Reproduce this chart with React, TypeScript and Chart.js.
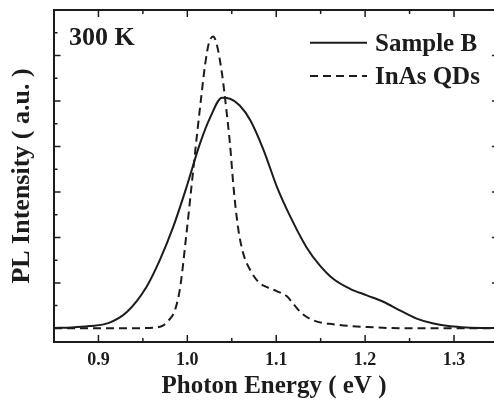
import React, { useEffect, useRef } from 'react';
import { Chart, registerables } from 'chart.js';
Chart.register(...registerables);

// ---- data ----
const sampleBEnergy = [0.85, 0.87, 0.89, 0.911, 0.932, 0.954, 0.969, 0.984, 0.999, 1.014, 1.026, 1.039, 1.048, 1.059, 1.071, 1.086, 1.101, 1.116, 1.134, 1.149, 1.164, 1.183, 1.202, 1.221, 1.239, 1.258, 1.277, 1.296, 1.314, 1.35];
const sampleBIntensity = [0.02, 0.04, 0.1, 0.23, 0.72, 1.82, 3.0, 4.45, 6.2, 8.1, 9.3, 10.14, 10.1, 9.8, 9.14, 7.82, 6.2, 4.9, 3.57, 2.77, 2.18, 1.74, 1.45, 1.16, 0.79, 0.43, 0.21, 0.09, 0.04, 0.01];

const qdEnergy = [0.85, 0.9, 0.95, 0.965, 0.973, 0.979, 0.986, 0.992, 0.999, 1.005, 1.011, 1.016, 1.02, 1.024, 1.029, 1.033, 1.039, 1.044, 1.048, 1.052, 1.057, 1.063, 1.071, 1.08, 1.089, 1.101, 1.112, 1.119, 1.129, 1.142, 1.164, 1.202, 1.239, 1.35];
const qdIntensity = [0, 0, 0.01, 0.04, 0.13, 0.35, 0.79, 1.82, 4.16, 6.36, 8.56, 10.3, 11.6, 12.5, 12.83, 12.5, 11.2, 9.58, 8.1, 6.2, 4.45, 3.28, 2.55, 2.04, 1.82, 1.63, 1.41, 1.09, 0.65, 0.35, 0.18, 0.06, 0.01, 0];

const seriesLabels = ['Sample B', 'InAs QDs'];
const xMin = 0.85;
const xVisibleMax = 1.345; // the right frame (1.35) lies just beyond the picture edge
const xFrameMax = 1.35;
const xMajorTicks = [0.9, 1.0, 1.1, 1.2, 1.3];
const xTickLabels = ['0.9', '1.0', '1.1', '1.2', '1.3'];
const xMinorTicks = [0.85, 0.95, 1.05, 1.15, 1.25, 1.35];
const yMajorTicks = [0, 2, 4, 6, 8, 10, 12];
const yMinorTicks = [1, 3, 5, 7, 9, 11, 13];
const xTitle = 'Photon Energy ( eV )';
const yTitle = 'PL Intensity ( a.u. )';
const tempLabel = '300 K';

const FONT = "'Liberation Serif', 'Times New Roman', serif";
const INK = '#1c1c1c';

const framePlugin = {
  id: 'frameAndTicks',
  afterDraw(chart: any) {
    const { ctx, chartArea: a, scales } = chart;
    const xs = scales.x;
    const ys = scales.y;
    const right = xs.getPixelForValue(xFrameMax);
    ctx.save();
    ctx.strokeStyle = INK;
    ctx.lineWidth = 2;
    ctx.setLineDash([]);
    ctx.beginPath();
    ctx.moveTo(right + 2, a.top);
    ctx.lineTo(a.left, a.top);
    ctx.lineTo(a.left, a.bottom);
    ctx.lineTo(right + 2, a.bottom);
    ctx.stroke();
    ctx.lineWidth = 1.5;
    const xt = (v: number, len: number) => {
      const px = xs.getPixelForValue(v);
      ctx.beginPath();
      ctx.moveTo(px, a.bottom); ctx.lineTo(px, a.bottom - len);
      ctx.moveTo(px, a.top); ctx.lineTo(px, a.top + len);
      ctx.stroke();
    };
    const yt = (v: number, len: number) => {
      const py = ys.getPixelForValue(v);
      ctx.beginPath();
      ctx.moveTo(a.left, py); ctx.lineTo(a.left + len, py);
      ctx.moveTo(right, py); ctx.lineTo(right - len, py);
      ctx.stroke();
    };
    xMajorTicks.forEach(v => xt(v, 7));
    xMinorTicks.forEach(v => xt(v, 4));
    yMajorTicks.forEach(v => yt(v, 6.5));
    yMinorTicks.forEach(v => yt(v, 3.5));

    // legend
    ctx.fillStyle = INK;
    ctx.font = `bold 25px ${FONT}`;
    ctx.textBaseline = 'alphabetic';
    ctx.textAlign = 'left';
    const rows = [42.7, 76];
    chart.data.datasets.forEach((ds: any, i: number) => {
      ctx.lineWidth = 2;
      ctx.setLineDash(ds.borderDash || []);
      ctx.beginPath();
      ctx.moveTo(310, rows[i]);
      ctx.lineTo(367, rows[i]);
      ctx.stroke();
      ctx.setLineDash([]);
      ctx.fillText(ds.label, 375, rows[i] + 8);
    });
    // temperature label
    ctx.font = `bold 26px ${FONT}`;
    ctx.fillText(tempLabel, 69, 45);
    ctx.restore();
  },
};

export default function App() {
  const ref = useRef<HTMLCanvasElement>(null);
  useEffect(() => {
    const chart = new Chart(ref.current as HTMLCanvasElement, {
      type: 'line',
      data: {
        datasets: [
          {
            label: seriesLabels[0],
            data: sampleBEnergy.map((x, i) => ({ x, y: sampleBIntensity[i] })),
            borderColor: INK,
            borderWidth: 2,
            pointRadius: 0,
            cubicInterpolationMode: 'monotone',
            fill: false,
          },
          {
            label: seriesLabels[1],
            data: qdEnergy.map((x, i) => ({ x, y: qdIntensity[i] })),
            borderColor: INK,
            borderWidth: 2,
            borderDash: [8, 5],
            pointRadius: 0,
            cubicInterpolationMode: 'monotone',
            fill: false,
          },
        ],
      },
      options: {
        animation: false,
        responsive: false,
        events: [],
        layout: { padding: { top: 10, right: 0, left: 0, bottom: 0 } },
        plugins: { legend: { display: false }, tooltip: { enabled: false } },
        scales: {
          x: {
            type: 'linear',
            min: xMin,
            max: xVisibleMax,
            grid: { display: false, drawTicks: false },
            border: { display: false },
            afterBuildTicks: (s: any) => { s.ticks = xMajorTicks.map(v => ({ value: v })); },
            afterFit: (s: any) => { s.height = 62; },
            ticks: {
              padding: 8,
              color: INK,
              font: { family: FONT, size: 18, weight: 'bold' },
              callback: (_v: any, i: number) => xTickLabels[i],
              maxRotation: 0,
              autoSkip: false,
            },
            title: {
              display: true,
              text: xTitle,
              color: INK,
              font: { family: FONT, size: 25, weight: 'bold' },
              padding: { top: 0, bottom: 2 },
            },
          },
          y: {
            type: 'linear',
            min: -0.6,
            max: 14,
            grid: { display: false, drawTicks: false },
            border: { display: false },
            ticks: { display: false },
            afterFit: (s: any) => { s.width = 54; },
            title: {
              display: true,
              text: yTitle,
              color: INK,
              font: { family: FONT, size: 26, weight: 'bold' },
              padding: { top: 7, bottom: 0 },
            },
          },
        },
      },
      plugins: [framePlugin],
    } as any);
    return () => chart.destroy();
  }, []);
  return (
    <div style={{ position: 'fixed', left: 0, top: 0, width: 494, height: 404, overflow: 'hidden', background: '#fff' }}>
      <canvas ref={ref} width={494} height={404} style={{ display: 'block' }} />
    </div>
  );
}
